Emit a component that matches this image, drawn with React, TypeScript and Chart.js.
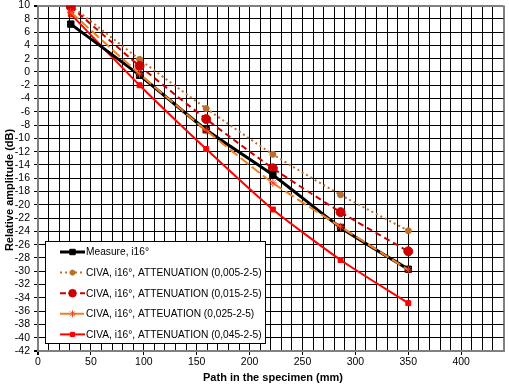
import React, { useEffect, useRef } from "react";
import { Chart, registerables } from "chart.js";
import { drawPoint } from "chart.js/helpers";

Chart.register(...registerables);

const pathMm = [31, 96, 159, 222, 286, 350];
const measure = [7.2, -0.5, -8.7, -15.5, -23.4, -29.7];
const civa005 = [10.0, 1.9, -5.5, -12.4, -18.5, -23.9];
const civa015 = [9.8, 0.9, -7.1, -14.5, -21.1, -27.0];
const civa025 = [9.0, -0.3, -8.8, -16.7, -23.3, -29.8];
const civa045 = [8.7, -2.0, -11.6, -20.7, -28.3, -34.8];

const seriesNames = [
  "Measure, i16°",
  "CIVA, i16°, ATTENUATION (0,005-2-5)",
  "CIVA, i16°, ATTENUATION (0,015-2-5)",
  "CIVA, i16°, ATTEUATION (0,025-2-5)",
  "CIVA, i16°, ATTENUATION (0,045-2-5)",
];

const FONT = '"Liberation Sans", Arial, sans-serif';

const mk = (ys: number[]) => ys.map((y, i) => ({ x: pathMm[i], y }));

const legendPlugin = {
  id: "boxLegend",
  afterDraw(chart: any) {
    const ctx = chart.ctx;
    ctx.save();
    ctx.fillStyle = "#fff";
    ctx.fillRect(45.5, 241.5, 220, 102);
    ctx.strokeStyle = "#000";
    ctx.lineWidth = 1;
    ctx.setLineDash([]);
    ctx.strokeRect(45.5, 241.5, 220, 102);
    chart.data.datasets.forEach((ds: any, i: number) => {
      const y = 252 + i * 20.6;
      ctx.save();
      ctx.strokeStyle = ds.borderColor;
      ctx.lineWidth = ds.borderWidth;
      ctx.setLineDash(ds.borderDash || []);
      ctx.beginPath();
      ctx.moveTo(60, y);
      ctx.lineTo(85, y);
      ctx.stroke();
      ctx.setLineDash([]);
      ctx.fillStyle = ds.pointBackgroundColor;
      ctx.strokeStyle = ds.pointBorderColor;
      ctx.lineWidth = ds.pointBorderWidth;
      drawPoint(ctx, { pointStyle: ds.pointStyle, radius: ds.pointRadius * 0.85, rotation: 0, borderWidth: ds.pointBorderWidth }, 72.5, y);
      ctx.restore();
      ctx.fillStyle = "#000";
      ctx.font = `10.2px ${FONT}`;
      ctx.textBaseline = "middle";
      ctx.textAlign = "left";
      ctx.fillText(ds.label, 86, y + 0.5);
    });
    // axis titles
    ctx.font = `bold 11px ${FONT}`;
    ctx.fillStyle = "#000";
    ctx.textAlign = "center";
    ctx.textBaseline = "middle";
    ctx.fillText("Path in the specimen (mm)", 273, 378);
    ctx.translate(10, 190);
    ctx.rotate(-Math.PI / 2);
    ctx.fillText("Relative amplitude (dB)", 0, 0);
    ctx.restore();
  },
};

export default function App() {
  const ref = useRef<HTMLCanvasElement>(null);
  useEffect(() => {
    const chart = new Chart(ref.current!, {
      type: "line",
      data: {
        datasets: [
          {
            label: seriesNames[0],
            data: mk(measure),
            borderColor: "#000000",
            borderWidth: 3,
            pointStyle: "rect",
            pointRadius: 4.5,
            pointBackgroundColor: "#000000",
            pointBorderColor: "#000000",
            pointBorderWidth: 1,
            tension: 0.2,
            order: 1,
          },
          {
            label: seriesNames[1],
            data: mk(civa005),
            borderColor: "#B8702C",
            borderWidth: 2,
            borderDash: [2, 3],
            pointStyle: "circle",
            pointRadius: 3,
            pointBackgroundColor: "#B8702C",
            pointBorderColor: "#B8702C",
            pointBorderWidth: 1,
            tension: 0.2,
            order: 4,
          },
          {
            label: seriesNames[2],
            data: mk(civa015),
            borderColor: "#CC0000",
            borderWidth: 2,
            borderDash: [6, 4],
            pointStyle: "circle",
            pointRadius: 4.5,
            pointBackgroundColor: "#CC0000",
            pointBorderColor: "#CC0000",
            pointBorderWidth: 1,
            tension: 0.2,
            order: 3,
          },
          {
            label: seriesNames[3],
            data: mk(civa025),
            borderColor: "#F0801E",
            borderWidth: 2,
            borderDash: [10, 4],
            pointStyle: "star",
            pointRadius: 4,
            pointBackgroundColor: "#F04020",
            pointBorderColor: "#F04020",
            pointBorderWidth: 1,
            tension: 0.2,
            order: 0,
          },
          {
            label: seriesNames[4],
            data: mk(civa045),
            borderColor: "#FF0000",
            borderWidth: 2,
            pointStyle: "rect",
            pointRadius: 3.5,
            pointBackgroundColor: "#FF0000",
            pointBorderColor: "#FF0000",
            pointBorderWidth: 1,
            tension: 0.2,
            order: 2,
          },
        ],
      },
      options: {
        responsive: false,
        animation: false,
        layout: { padding: { top: 5, right: 4, left: 0, bottom: 0 } },
        plugins: { legend: { display: false }, tooltip: { enabled: false } },
        scales: {
          x: {
            type: "linear",
            min: 0,
            max: 440,
            afterFit: (s: any) => {
              s.height = 36;
              s.paddingLeft = 0;
              s.paddingRight = 0;
            },
            ticks: {
              stepSize: 10,
              autoSkip: false,
              maxRotation: 0,
              padding: 1,
              color: "#000",
              font: { family: FONT, size: 10.5 },
              callback: (v: any) => (Number(v) % 50 === 0 && Number(v) <= 400 ? String(v) : ""),
            },
            grid: {
              color: (c: any) => (c.index === 0 || c.index === 44 ? "#808080" : "#000"),
              lineWidth: (c: any) => (c.index === 0 || c.index === 44 ? 2 : 1),
              tickLength: 4,
              tickColor: (c: any) => (c.tick && c.tick.value % 50 === 0 ? "#000" : "rgba(0,0,0,0)"),
            },
            border: { color: "#808080", width: 2 },
          },
          y: {
            type: "linear",
            min: -42,
            max: 10,
            afterFit: (s: any) => {
              s.width = 38;
              s.paddingTop = 0;
              s.paddingBottom = 0;
            },
            ticks: {
              stepSize: 2,
              autoSkip: false,
              padding: 4,
              color: "#000",
              font: { family: FONT, size: 10.5 },
            },
            grid: {
              color: (c: any) => (c.index === 0 || c.index === 26 ? "#808080" : "#000"),
              lineWidth: (c: any) => (c.index === 0 || c.index === 26 ? 2 : 1),
              tickLength: 4,
              tickColor: "#000",
            },
            border: { color: "#808080", width: 2 },
          },
        },
      },
      plugins: [legendPlugin],
    });
    return () => chart.destroy();
  }, []);
  return (
    <div style={{ position: "fixed", left: 0, top: 0, width: 509, height: 387, background: "#fff" }}>
      <canvas ref={ref} width={509} height={387} />
    </div>
  );
}
